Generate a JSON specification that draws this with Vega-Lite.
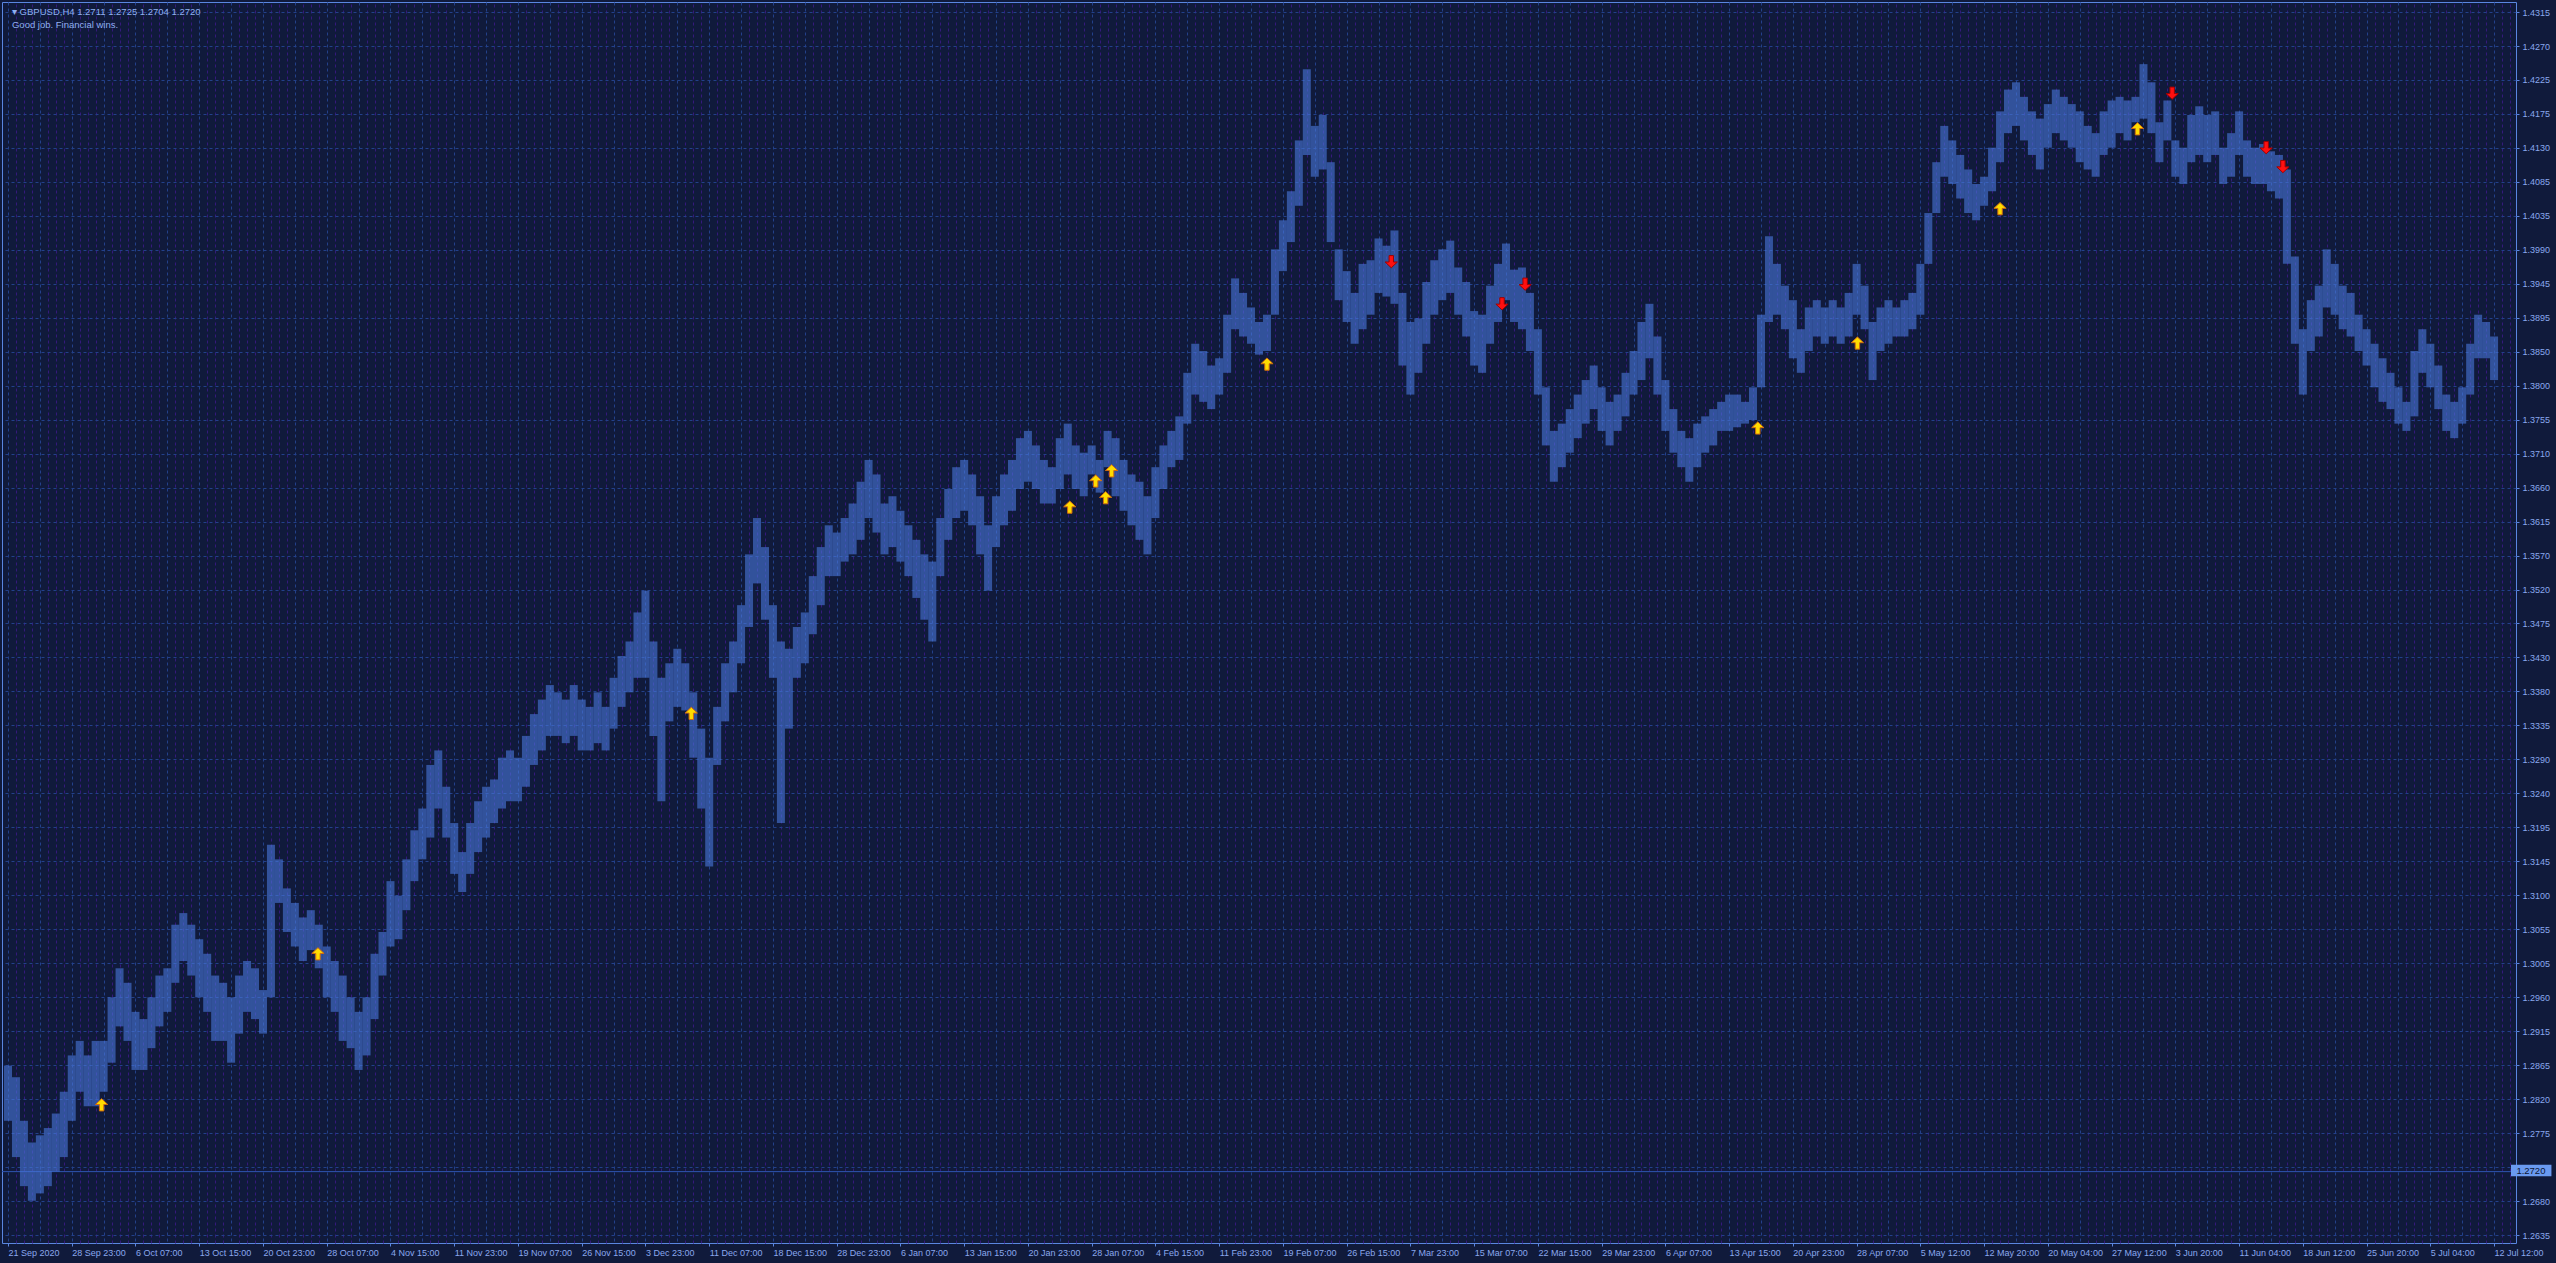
{
"$schema": "https://vega.github.io/schema/vega-lite/v6.json",
"width": 2514, "height": 1241,
"autosize": "none",
"padding": {"left": 2, "top": 2, "right": 40, "bottom": 20},
"background": "#101a3b",
"view": {"stroke": "#5a86e0", "strokeWidth": 1},
"config": {"font": "Liberation Sans", "axis": {"labelFont": "Liberation Sans", "labelFontSize": 9, "labelColor": "#8aa8ee", "domain": false, "tickColor": "#5a86e0", "title": null}},
"datasets": {
"one": [{}],
"bars": [
{"u":0,"h":1.2866,"l":1.2790},{"u":1,"h":1.2850,"l":1.2740},{"u":2,"h":1.2790,"l":1.2700},{"u":3,"h":1.2760,"l":1.2680},{"u":4,"h":1.2770,"l":1.2690},{"u":5,"h":1.2780,"l":1.2700},{"u":6,"h":1.2800,"l":1.2720},{"u":7,"h":1.2830,"l":1.2740},{"u":8,"h":1.2880,"l":1.2790},{"u":9,"h":1.2900,"l":1.2830},
{"u":10,"h":1.2880,"l":1.2810},{"u":11,"h":1.2900,"l":1.2810},{"u":12,"h":1.2900,"l":1.2830},{"u":13,"h":1.2960,"l":1.2870},{"u":14,"h":1.3000,"l":1.2920},{"u":15,"h":1.2980,"l":1.2900},{"u":16,"h":1.2940,"l":1.2860},{"u":17,"h":1.2930,"l":1.2860},{"u":18,"h":1.2960,"l":1.2890},{"u":19,"h":1.2990,"l":1.2920},
{"u":20,"h":1.3000,"l":1.2940},{"u":21,"h":1.3060,"l":1.2980},{"u":22,"h":1.3076,"l":1.3010},{"u":23,"h":1.3060,"l":1.2990},{"u":24,"h":1.3040,"l":1.2960},{"u":25,"h":1.3020,"l":1.2940},{"u":26,"h":1.2990,"l":1.2900},{"u":27,"h":1.2980,"l":1.2900},{"u":28,"h":1.2960,"l":1.2870},{"u":29,"h":1.2990,"l":1.2910},
{"u":30,"h":1.3010,"l":1.2940},{"u":31,"h":1.3000,"l":1.2930},{"u":32,"h":1.2970,"l":1.2910},{"u":33,"h":1.3170,"l":1.2960},{"u":34,"h":1.3150,"l":1.3090},{"u":35,"h":1.3110,"l":1.3050},{"u":36,"h":1.3090,"l":1.3030},{"u":37,"h":1.3070,"l":1.3010},{"u":38,"h":1.3080,"l":1.3025},{"u":39,"h":1.3060,"l":1.3000},
{"u":40,"h":1.3030,"l":1.2960},{"u":41,"h":1.3010,"l":1.2940},{"u":42,"h":1.2990,"l":1.2900},{"u":43,"h":1.2960,"l":1.2890},{"u":44,"h":1.2940,"l":1.2860},{"u":45,"h":1.2960,"l":1.2880},{"u":46,"h":1.3020,"l":1.2930},{"u":47,"h":1.3050,"l":1.2990},{"u":48,"h":1.3120,"l":1.3030},{"u":49,"h":1.3100,"l":1.3040},
{"u":50,"h":1.3150,"l":1.3080},{"u":51,"h":1.3190,"l":1.3120},{"u":52,"h":1.3220,"l":1.3150},{"u":53,"h":1.3280,"l":1.3180},{"u":54,"h":1.3300,"l":1.3220},{"u":55,"h":1.3250,"l":1.3180},{"u":56,"h":1.3200,"l":1.3130},{"u":57,"h":1.3160,"l":1.3105},{"u":58,"h":1.3200,"l":1.3130},{"u":59,"h":1.3230,"l":1.3160},
{"u":60,"h":1.3250,"l":1.3180},{"u":61,"h":1.3260,"l":1.3200},{"u":62,"h":1.3290,"l":1.3220},{"u":63,"h":1.3300,"l":1.3230},{"u":64,"h":1.3290,"l":1.3230},{"u":65,"h":1.3320,"l":1.3250},{"u":66,"h":1.3350,"l":1.3280},{"u":67,"h":1.3370,"l":1.3300},{"u":68,"h":1.3390,"l":1.3320},{"u":69,"h":1.3380,"l":1.3320},
{"u":70,"h":1.3370,"l":1.3310},{"u":71,"h":1.3390,"l":1.3320},{"u":72,"h":1.3370,"l":1.3300},{"u":73,"h":1.3360,"l":1.3300},{"u":74,"h":1.3380,"l":1.3310},{"u":75,"h":1.3360,"l":1.3300},{"u":76,"h":1.3400,"l":1.3330},{"u":77,"h":1.3430,"l":1.3360},{"u":78,"h":1.3450,"l":1.3380},{"u":79,"h":1.3490,"l":1.3400},
{"u":80,"h":1.3520,"l":1.3400},{"u":81,"h":1.3450,"l":1.3320},{"u":82,"h":1.3400,"l":1.3230},{"u":83,"h":1.3420,"l":1.3340},{"u":84,"h":1.3440,"l":1.3360},{"u":85,"h":1.3420,"l":1.3355},{"u":86,"h":1.3380,"l":1.3290},{"u":87,"h":1.3330,"l":1.3220},{"u":88,"h":1.3290,"l":1.3140},{"u":89,"h":1.3360,"l":1.3280},
{"u":90,"h":1.3420,"l":1.3340},{"u":91,"h":1.3450,"l":1.3380},{"u":92,"h":1.3500,"l":1.3420},{"u":93,"h":1.3570,"l":1.3470},{"u":94,"h":1.3620,"l":1.3530},{"u":95,"h":1.3580,"l":1.3480},{"u":96,"h":1.3500,"l":1.3400},{"u":97,"h":1.3450,"l":1.3200},{"u":98,"h":1.3440,"l":1.3330},{"u":99,"h":1.3470,"l":1.3400},
{"u":100,"h":1.3490,"l":1.3420},{"u":101,"h":1.3540,"l":1.3460},{"u":102,"h":1.3580,"l":1.3500},{"u":103,"h":1.3610,"l":1.3540},{"u":104,"h":1.3600,"l":1.3540},{"u":105,"h":1.3620,"l":1.3560},{"u":106,"h":1.3640,"l":1.3570},{"u":107,"h":1.3670,"l":1.3590},{"u":108,"h":1.3700,"l":1.3620},{"u":109,"h":1.3680,"l":1.3600},
{"u":110,"h":1.3640,"l":1.3570},{"u":111,"h":1.3650,"l":1.3580},{"u":112,"h":1.3630,"l":1.3560},{"u":113,"h":1.3610,"l":1.3540},{"u":114,"h":1.3590,"l":1.3510},{"u":115,"h":1.3570,"l":1.3480},{"u":116,"h":1.3560,"l":1.3450},{"u":117,"h":1.3620,"l":1.3540},{"u":118,"h":1.3660,"l":1.3590},{"u":119,"h":1.3690,"l":1.3620},
{"u":120,"h":1.3700,"l":1.3630},{"u":121,"h":1.3680,"l":1.3610},{"u":122,"h":1.3650,"l":1.3570},{"u":123,"h":1.3610,"l":1.3520},{"u":124,"h":1.3650,"l":1.3580},{"u":125,"h":1.3680,"l":1.3610},{"u":126,"h":1.3700,"l":1.3630},{"u":127,"h":1.3730,"l":1.3660},{"u":128,"h":1.3740,"l":1.3670},{"u":129,"h":1.3720,"l":1.3660},
{"u":130,"h":1.3700,"l":1.3640},{"u":131,"h":1.3690,"l":1.3640},{"u":132,"h":1.3730,"l":1.3660},{"u":133,"h":1.3750,"l":1.3680},{"u":134,"h":1.3720,"l":1.3660},{"u":135,"h":1.3710,"l":1.3650},{"u":136,"h":1.3720,"l":1.3680},{"u":137,"h":1.3700,"l":1.3655},{"u":138,"h":1.3740,"l":1.3690},{"u":139,"h":1.3730,"l":1.3650},
{"u":140,"h":1.3700,"l":1.3630},{"u":141,"h":1.3680,"l":1.3610},{"u":142,"h":1.3670,"l":1.3590},{"u":143,"h":1.3650,"l":1.3570},{"u":144,"h":1.3690,"l":1.3620},{"u":145,"h":1.3720,"l":1.3660},{"u":146,"h":1.3740,"l":1.3690},{"u":147,"h":1.3760,"l":1.3700},{"u":148,"h":1.3820,"l":1.3750},{"u":149,"h":1.3860,"l":1.3790},
{"u":150,"h":1.3850,"l":1.3780},{"u":151,"h":1.3830,"l":1.3770},{"u":152,"h":1.3840,"l":1.3790},{"u":153,"h":1.3900,"l":1.3820},{"u":154,"h":1.3950,"l":1.3880},{"u":155,"h":1.3930,"l":1.3870},{"u":156,"h":1.3910,"l":1.3860},{"u":157,"h":1.3890,"l":1.3845},{"u":158,"h":1.3900,"l":1.3850},{"u":159,"h":1.3990,"l":1.3900},
{"u":160,"h":1.4030,"l":1.3960},{"u":161,"h":1.4070,"l":1.4000},{"u":162,"h":1.4140,"l":1.4050},{"u":163,"h":1.4238,"l":1.4120},{"u":164,"h":1.4160,"l":1.4090},{"u":165,"h":1.4175,"l":1.4100},{"u":166,"h":1.4110,"l":1.4000},{"u":167,"h":1.3990,"l":1.3920},{"u":168,"h":1.3960,"l":1.3890},{"u":169,"h":1.3930,"l":1.3860},
{"u":170,"h":1.3970,"l":1.3880},{"u":171,"h":1.3975,"l":1.3900},{"u":172,"h":1.4005,"l":1.3930},{"u":173,"h":1.3995,"l":1.3925},{"u":174,"h":1.4016,"l":1.3915},{"u":175,"h":1.3930,"l":1.3830},{"u":176,"h":1.3890,"l":1.3790},{"u":177,"h":1.3895,"l":1.3820},{"u":178,"h":1.3945,"l":1.3860},{"u":179,"h":1.3975,"l":1.3900},
{"u":180,"h":1.3990,"l":1.3920},{"u":181,"h":1.4002,"l":1.3930},{"u":182,"h":1.3965,"l":1.3900},{"u":183,"h":1.3945,"l":1.3870},{"u":184,"h":1.3905,"l":1.3830},{"u":185,"h":1.3900,"l":1.3820},{"u":186,"h":1.3940,"l":1.3860},{"u":187,"h":1.3970,"l":1.3890},{"u":188,"h":1.3998,"l":1.3920},{"u":189,"h":1.3962,"l":1.3890},
{"u":190,"h":1.3965,"l":1.3880},{"u":191,"h":1.3930,"l":1.3850},{"u":192,"h":1.3880,"l":1.3790},{"u":193,"h":1.3800,"l":1.3720},{"u":194,"h":1.3740,"l":1.3670},{"u":195,"h":1.3750,"l":1.3690},{"u":196,"h":1.3770,"l":1.3710},{"u":197,"h":1.3790,"l":1.3730},{"u":198,"h":1.3810,"l":1.3750},{"u":199,"h":1.3830,"l":1.3770},
{"u":200,"h":1.3800,"l":1.3740},{"u":201,"h":1.3780,"l":1.3720},{"u":202,"h":1.3790,"l":1.3740},{"u":203,"h":1.3820,"l":1.3760},{"u":204,"h":1.3850,"l":1.3790},{"u":205,"h":1.3890,"l":1.3810},{"u":206,"h":1.3915,"l":1.3840},{"u":207,"h":1.3870,"l":1.3790},{"u":208,"h":1.3810,"l":1.3740},{"u":209,"h":1.3770,"l":1.3710},
{"u":210,"h":1.3740,"l":1.3690},{"u":211,"h":1.3730,"l":1.3670},{"u":212,"h":1.3750,"l":1.3690},{"u":213,"h":1.3760,"l":1.3710},{"u":214,"h":1.3770,"l":1.3720},{"u":215,"h":1.3780,"l":1.3740},{"u":216,"h":1.3790,"l":1.3740},{"u":217,"h":1.3790,"l":1.3745},{"u":218,"h":1.3780,"l":1.3750},{"u":219,"h":1.3800,"l":1.3755},
{"u":220,"h":1.3900,"l":1.3800},{"u":221,"h":1.4008,"l":1.3890},{"u":222,"h":1.3970,"l":1.3900},{"u":223,"h":1.3940,"l":1.3880},{"u":224,"h":1.3920,"l":1.3840},{"u":225,"h":1.3880,"l":1.3820},{"u":226,"h":1.3910,"l":1.3850},{"u":227,"h":1.3920,"l":1.3870},{"u":228,"h":1.3910,"l":1.3860},{"u":229,"h":1.3920,"l":1.3870},
{"u":230,"h":1.3910,"l":1.3860},{"u":231,"h":1.3930,"l":1.3870},{"u":232,"h":1.3970,"l":1.3900},{"u":233,"h":1.3940,"l":1.3880},{"u":234,"h":1.3890,"l":1.3810},{"u":235,"h":1.3910,"l":1.3850},{"u":236,"h":1.3920,"l":1.3860},{"u":237,"h":1.3910,"l":1.3870},{"u":238,"h":1.3920,"l":1.3870},{"u":239,"h":1.3930,"l":1.3880},
{"u":240,"h":1.3970,"l":1.3900},{"u":241,"h":1.4040,"l":1.3970},{"u":242,"h":1.4110,"l":1.4040},{"u":243,"h":1.4160,"l":1.4090},{"u":244,"h":1.4140,"l":1.4080},{"u":245,"h":1.4120,"l":1.4060},{"u":246,"h":1.4100,"l":1.4040},{"u":247,"h":1.4080,"l":1.4030},{"u":248,"h":1.4090,"l":1.4050},{"u":249,"h":1.4130,"l":1.4070},
{"u":250,"h":1.4180,"l":1.4110},{"u":251,"h":1.4210,"l":1.4150},{"u":252,"h":1.4220,"l":1.4160},{"u":253,"h":1.4200,"l":1.4140},{"u":254,"h":1.4180,"l":1.4120},{"u":255,"h":1.4170,"l":1.4100},{"u":256,"h":1.4190,"l":1.4130},{"u":257,"h":1.4210,"l":1.4150},{"u":258,"h":1.4200,"l":1.4140},{"u":259,"h":1.4190,"l":1.4130},
{"u":260,"h":1.4180,"l":1.4110},{"u":261,"h":1.4160,"l":1.4100},{"u":262,"h":1.4150,"l":1.4090},{"u":263,"h":1.4180,"l":1.4120},{"u":264,"h":1.4195,"l":1.4130},{"u":265,"h":1.4200,"l":1.4150},{"u":266,"h":1.4195,"l":1.4140},{"u":267,"h":1.4200,"l":1.4165},{"u":268,"h":1.4245,"l":1.4170},{"u":269,"h":1.4220,"l":1.4150},
{"u":270,"h":1.4165,"l":1.4110},{"u":271,"h":1.4195,"l":1.4140},{"u":272,"h":1.4140,"l":1.4090},{"u":273,"h":1.4130,"l":1.4080},{"u":274,"h":1.4175,"l":1.4110},{"u":275,"h":1.4187,"l":1.4120},{"u":276,"h":1.4175,"l":1.4110},{"u":277,"h":1.4180,"l":1.4120},{"u":278,"h":1.4130,"l":1.4080},{"u":279,"h":1.4150,"l":1.4090},
{"u":280,"h":1.4180,"l":1.4120},{"u":281,"h":1.4140,"l":1.4090},{"u":282,"h":1.4130,"l":1.4080},{"u":283,"h":1.4135,"l":1.4080},{"u":284,"h":1.4125,"l":1.4070},{"u":285,"h":1.4120,"l":1.4060},{"u":286,"h":1.4100,"l":1.3970},{"u":287,"h":1.3980,"l":1.3860},{"u":288,"h":1.3880,"l":1.3790},{"u":289,"h":1.3920,"l":1.3850},
{"u":290,"h":1.3940,"l":1.3870},{"u":291,"h":1.3990,"l":1.3910},{"u":292,"h":1.3970,"l":1.3900},{"u":293,"h":1.3940,"l":1.3880},{"u":294,"h":1.3930,"l":1.3870},{"u":295,"h":1.3900,"l":1.3850},{"u":296,"h":1.3880,"l":1.3830},{"u":297,"h":1.3860,"l":1.3800},{"u":298,"h":1.3840,"l":1.3780},{"u":299,"h":1.3820,"l":1.3770},
{"u":300,"h":1.3800,"l":1.3750},{"u":301,"h":1.3780,"l":1.3740},{"u":302,"h":1.3850,"l":1.3760},{"u":303,"h":1.3880,"l":1.3820},{"u":304,"h":1.3860,"l":1.3800},{"u":305,"h":1.3830,"l":1.3770},{"u":306,"h":1.3790,"l":1.3740},{"u":307,"h":1.3780,"l":1.3730},{"u":308,"h":1.3800,"l":1.3750},{"u":309,"h":1.3860,"l":1.3790},
{"u":310,"h":1.3900,"l":1.3840},{"u":311,"h":1.3890,"l":1.3840},{"u":312,"h":1.3870,"l":1.3810}
],
"sig": [
{"u":11.75,"p":1.2812,"d":"up"},{"u":38.9,"p":1.3020,"d":"up"},{"u":85.75,"p":1.3351,"d":"up"},{"u":133.25,"p":1.3635,"d":"up"},{"u":136.5,"p":1.3671,"d":"up"},{"u":137.75,"p":1.3648,"d":"up"},{"u":138.5,"p":1.3685,"d":"up"},{"u":158,"p":1.3832,"d":"up"},{"u":219.6,"p":1.3744,"d":"up"},{"u":232.1,"p":1.3861,"d":"up"},{"u":250,"p":1.4046,"d":"up"},{"u":267.25,"p":1.4156,"d":"up"},
{"u":173.6,"p":1.3973,"d":"down"},{"u":187.5,"p":1.3915,"d":"down"},{"u":190.4,"p":1.3942,"d":"down"},{"u":271.6,"p":1.4205,"d":"down"},{"u":283.4,"p":1.4130,"d":"down"},{"u":285.5,"p":1.4104,"d":"down"}
]
},
"resolve": {"axis": {"x": "independent", "y": "independent"}},
"layer": [
{
"data": {"name": "one"},
"mark": {"type": "rule", "color": "#2f55b0", "strokeWidth": 1},
"encoding": {"y": {"datum": 1.2720, "scale": {"domain": [1.26217, 1.43306], "nice": false, "zero": false},
 "axis": {"orient": "right", "values": [1.43168,1.427,1.42232,1.41765,1.41297,1.40829,1.40361,1.39893,1.39426,1.38958,1.3849,1.38022,1.37554,1.37087,1.36619,1.36151,1.35683,1.35215,1.34748,1.3428,1.33812,1.33344,1.32876,1.32409,1.31941,1.31473,1.31005,1.30537,1.3007,1.29602,1.29134,1.28666,1.28198,1.27731,1.27263,1.26795,1.26327],
 "labelExpr": "['1.4315','1.4270','1.4225','1.4175','1.4130','1.4085','1.4035','1.3990','1.3945','1.3895','1.3850','1.3800','1.3755','1.3710','1.3660','1.3615','1.3570','1.3520','1.3475','1.3430','1.3380','1.3335','1.3290','1.3240','1.3195','1.3145','1.3100','1.3055','1.3005','1.2960','1.2915','1.2865','1.2820','1.2775','','1.2680','1.2635'][round((1.43168 - datum.value) / 0.004678)]",
 "grid": true, "gridColor": "#23408a", "gridDash": [3, 3], "tickSize": 3, "labelPadding": 3, "labelAlign": "left", "labelBaseline": "middle", "labelOverlap": false, "labelFlush": false}}}
},
{
"data": {"name": "bars"},
"mark": {"type": "bar", "size": 8, "fill": "#4a78dc", "fillOpacity": 0.6},
"encoding": {
"x": {"field": "u", "type": "quantitative", "title": null, "scale": {"domain": [-0.125, 314.125], "nice": false, "zero": false},
 "axis": {"orient": "top", "tickCount": 315, "grid": true, "gridColor": "#35197c", "gridDash": [3, 3], "gridOpacity": {"condition": {"test": "datum.value % 4 === 0", "value": 0}, "value": 1}, "labels": false, "ticks": false, "domain": false}},
"y": {"field": "l", "type": "quantitative", "title": null, "scale": {"domain": [1.26217, 1.43306], "nice": false, "zero": false}, "axis": null},
"y2": {"field": "h"}
}
},
{
"data": {"name": "sig"},
"mark": {"type": "point", "filled": true, "size": 150, "strokeWidth": 1, "opacity": 1},
"encoding": {
"x": {"field": "u", "type": "quantitative", "title": null, "scale": {"domain": [-0.125, 314.125], "nice": false, "zero": false},
 "axis": {"orient": "bottom", "values": [0,4,8,12,16,20,24,28,32,36,40,44,48,52,56,60,64,68,72,76,80,84,88,92,96,100,104,108,112,116,120,124,128,132,136,140,144,148,152,156,160,164,168,172,176,180,184,188,192,196,200,204,208,212,216,220,224,228,232,236,240,244,248,252,256,260,264,268,272,276,280,284,288,292,296,300,304,308,312],
 "labelExpr": "datum.value % 8 === 0 ? ['21 Sep 2020','28 Sep 23:00','6 Oct 07:00','13 Oct 15:00','20 Oct 23:00','28 Oct 07:00','4 Nov 15:00','11 Nov 23:00','19 Nov 07:00','26 Nov 15:00','3 Dec 23:00','11 Dec 07:00','18 Dec 15:00','28 Dec 23:00','6 Jan 07:00','13 Jan 15:00','20 Jan 23:00','28 Jan 07:00','4 Feb 15:00','11 Feb 23:00','19 Feb 07:00','26 Feb 15:00','7 Mar 23:00','15 Mar 07:00','22 Mar 15:00','29 Mar 23:00','6 Apr 07:00','13 Apr 15:00','20 Apr 23:00','28 Apr 07:00','5 May 12:00','12 May 20:00','20 May 04:00','27 May 12:00','3 Jun 20:00','11 Jun 04:00','18 Jun 12:00','25 Jun 20:00','5 Jul 04:00','12 Jul 12:00'][datum.value / 8] : ''",
 "grid": true, "gridColor": "#23408a", "gridDash": [3, 3], "tickSize": 3, "tickOpacity": {"condition": {"test": "datum.value % 8 === 0", "value": 1}, "value": 0}, "labelPadding": 2, "labelAlign": "left", "labelBaseline": "top", "labelOverlap": false, "labelFlush": false, "domain": false}},
"y": {"field": "p", "type": "quantitative", "title": null, "scale": {"domain": [1.26217, 1.43306], "nice": false, "zero": false}, "axis": null},
"shape": {"field": "d", "type": "nominal", "legend": null, "scale": {"domain": ["up", "down"], "range": ["M0,-1L1,-0.05L0.36,-0.05L0.36,1L-0.36,1L-0.36,-0.05L-1,-0.05Z", "M0,1L1,0.05L0.36,0.05L0.36,-1L-0.36,-1L-0.36,0.05L-1,0.05Z"]}},
"fill": {"field": "d", "type": "nominal", "legend": null, "scale": {"domain": ["up", "down"], "range": ["#ffdc00", "#ff1010"]}},
"stroke": {"field": "d", "type": "nominal", "legend": null, "scale": {"domain": ["up", "down"], "range": ["#d06a10", "#a00000"]}}
}
},
{
"data": {"name": "one"},
"mark": {"type": "rect", "fill": "#6a9af0"},
"encoding": {
"x": {"datum": 314.125, "scale": {"domain": [-0.125, 314.125], "nice": false, "zero": false}, "axis": null},
"x2": {"datum": 319.2},
"y": {"datum": 1.27295, "scale": {"domain": [1.26217, 1.43306], "nice": false, "zero": false}, "axis": null},
"y2": {"datum": 1.27135}
}
},
{
"data": {"name": "one"},
"mark": {"type": "text", "text": "1.2720", "font": "Liberation Sans", "fontSize": 9.5, "color": "#0c1533", "align": "left", "baseline": "middle"},
"encoding": {
"x": {"datum": 314.8, "scale": {"domain": [-0.125, 314.125], "nice": false, "zero": false}, "axis": null},
"y": {"datum": 1.2721, "scale": {"domain": [1.26217, 1.43306], "nice": false, "zero": false}, "axis": null}
}
},
{
"data": {"name": "one"},
"mark": {"type": "text", "text": "▾ GBPUSD,H4  1.2711 1.2725 1.2704 1.2720", "font": "Liberation Sans", "fontSize": 9.5, "color": "#8fb0f0", "align": "left", "baseline": "alphabetic"},
"encoding": {
"x": {"datum": 0.5, "scale": {"domain": [-0.125, 314.125], "nice": false, "zero": false}, "axis": null},
"y": {"datum": 1.43125, "scale": {"domain": [1.26217, 1.43306], "nice": false, "zero": false}, "axis": null}
}
},
{
"data": {"name": "one"},
"mark": {"type": "text", "text": "Good job. Financial wins.", "font": "Liberation Sans", "fontSize": 9.5, "color": "#8fb0f0", "align": "left", "baseline": "alphabetic"},
"encoding": {
"x": {"datum": 0.5, "scale": {"domain": [-0.125, 314.125], "nice": false, "zero": false}, "axis": null},
"y": {"datum": 1.42945, "scale": {"domain": [1.26217, 1.43306], "nice": false, "zero": false}, "axis": null}
}
}
]
}
